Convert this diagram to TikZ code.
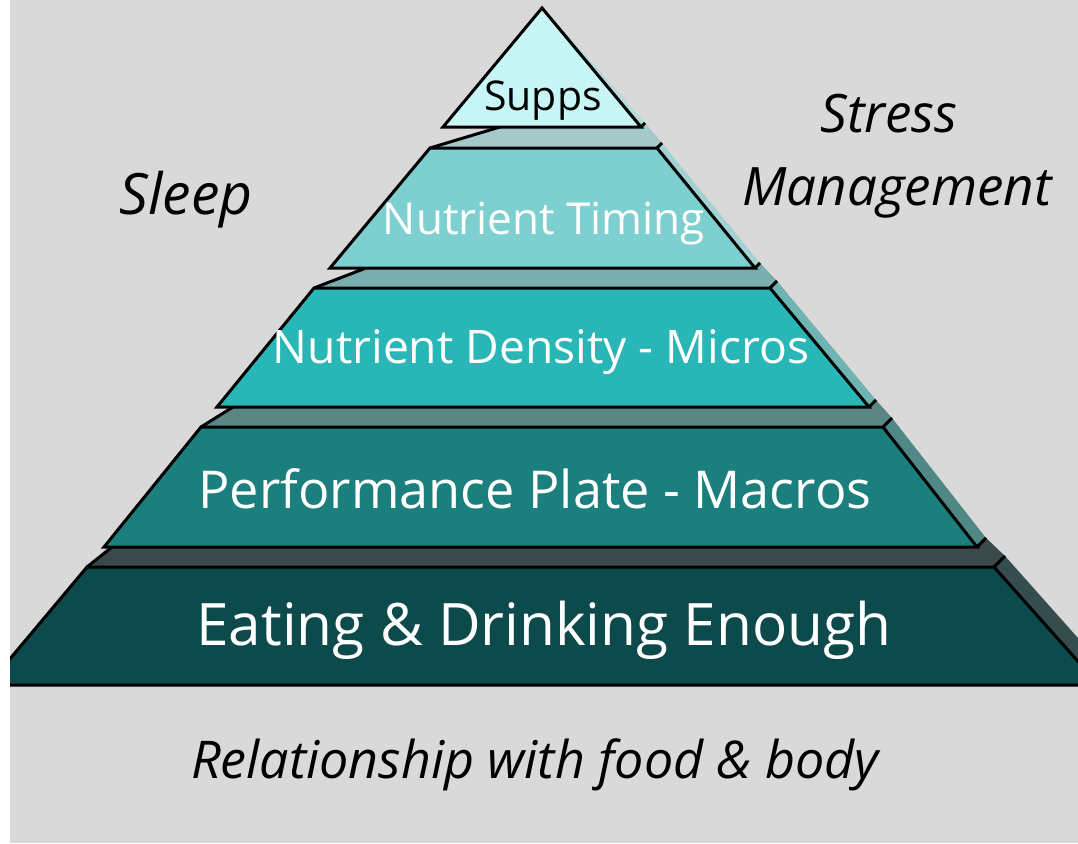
\documentclass[tikz,border=0pt]{standalone}
\usepackage{fontspec}
\usetikzlibrary{calc}
\setmainfont{Open Sans}
\begin{document}
\begin{tikzpicture}[x=1pt,y=-1pt,
  outline/.style={draw=black,line width=3pt,line join=miter},
  edge/.style={draw=black,line width=3pt,line cap=butt},
  label/.style={inner sep=0pt,anchor=base},
  lbltext/.style={label,text=white},
  sidetext/.style={label,text=black,font=\itshape\fontsize{53}{63}\selectfont}]
\definecolor{bg}{HTML}{D9D9D9}
\definecolor{fA}{HTML}{C8F5F5}\definecolor{sA}{HTML}{B2DADA}
\definecolor{fB}{HTML}{7ECFCF}\definecolor{sB}{HTML}{A2D2D2}\definecolor{tB}{HTML}{A5C9C9}
\definecolor{fC}{HTML}{29B6B6}\definecolor{sC}{HTML}{6FB3B3}\definecolor{tC}{HTML}{7AAEAE}
\definecolor{fD}{HTML}{1A7F7D}\definecolor{sD}{HTML}{4F8886}\definecolor{tD}{HTML}{5C8684}
\definecolor{fE}{HTML}{0D4A4B}\definecolor{sE}{HTML}{354D4D}\definecolor{tE}{HTML}{3A4A4A}
% canvas
\fill[bg] (0,0) rectangle (1078,843);
\fill[white] (0,0) rectangle (10,843);
\useasboundingbox (0,0) rectangle (1078,843);

% layer corners
\coordinate (A)   at (542,8);
\coordinate (BL1) at (443,127); \coordinate (BR1) at (641,127);
\coordinate (TL2) at (430,148); \coordinate (TR2) at (657,148);
\coordinate (BL2) at (330,268); \coordinate (BR2) at (755,268);
\coordinate (TL3) at (314,288); \coordinate (TR3) at (770,288);
\coordinate (BL3) at (217,407); \coordinate (BR3) at (869,407);
\coordinate (TL4) at (201,427); \coordinate (TR4) at (883,427);
\coordinate (BL4) at (104,547); \coordinate (BR4) at (977,547);
\coordinate (TL5) at (87,567);  \coordinate (TR5) at (994,567);
\coordinate (BL5) at (-12,685); \coordinate (BR5) at (1099,685);
% back-left corners of the top faces
\coordinate (K2) at (500,127);
\coordinate (K3) at (366,268);
\coordinate (K4) at (233,407);
\coordinate (K5) at (112,547);

\begin{scope}
\clip (10,0) rectangle (1078,843);
% ---- base layer
\fill[tE] (K5) -- ($(BR4)+(9,-9)$) -- ($(TR5)+(11,-11)$) -- (TR5) -- (TL5) -- cycle;
\fill[sE] (TR5) -- ($(TR5)+(11,-11)$) -- ($(BR5)+(11,-11)$) -- (BR5) -- cycle;
\fill[fE] (TL5) -- (TR5) -- (BR5) -- (BL5) -- cycle;
\draw[outline] (TL5) -- (TR5) -- (BR5) -- (BL5) -- cycle;
\draw[edge] (K5) -- (TL5);
\draw[edge] (TR5) -- ++(11,-11);
% ---- fourth layer
\fill[tD] (K4) -- ($(BR3)+(7,-7)$) -- ($(TR4)+(9,-9)$) -- (TR4) -- (TL4) -- cycle;
\fill[sD] (TR4) -- ($(TR4)+(9,-9)$) -- ($(BR4)+(9,-9)$) -- (BR4) -- cycle;
\fill[fD] (TL4) -- (TR4) -- (BR4) -- (BL4) -- cycle;
\draw[outline] (TL4) -- (TR4) -- (BR4) -- (BL4) -- cycle;
\draw[edge] (K4) -- (TL4);
\draw[edge] (TR4) -- ++(9,-9);
\draw[edge] (BR4) -- ++(9,-9);
% ---- third layer
\fill[tC] (K3) -- ($(BR2)+(5,-5)$) -- ($(TR3)+(7,-7)$) -- (TR3) -- (TL3) -- cycle;
\fill[sC] (TR3) -- ($(TR3)+(7,-7)$) -- ($(BR3)+(7,-7)$) -- (BR3) -- cycle;
\fill[fC] (TL3) -- (TR3) -- (BR3) -- (BL3) -- cycle;
\draw[outline] (TL3) -- (TR3) -- (BR3) -- (BL3) -- cycle;
\draw[edge] (K3) -- (TL3);
\draw[edge] (TR3) -- ++(7,-7);
\draw[edge] (BR3) -- ++(7,-7);
% ---- second layer
\fill[tB] (K2) -- ($(BR1)+(4,-4)$) -- ($(TR2)+(5,-5)$) -- (TR2) -- (TL2) -- cycle;
\fill[sB] (TR2) -- ($(TR2)+(5,-5)$) -- ($(BR2)+(5,-5)$) -- (BR2) -- cycle;
\fill[fB] (TL2) -- (TR2) -- (BR2) -- (BL2) -- cycle;
\draw[outline] (TL2) -- (TR2) -- (BR2) -- (BL2) -- cycle;
\draw[edge] (K2) -- (TL2);
\draw[edge] (TR2) -- ++(5,-5);
\draw[edge] (BR2) -- ++(5,-5);
% ---- top layer
\fill[sA] (A) -- ($(A)+(2,0)$) -- ($(BR1)+(4,-4)$) -- (BR1) -- cycle;
\fill[fA] (A) -- (BR1) -- (BL1) -- cycle;
\draw[outline] (A) -- (BR1) -- (BL1) -- cycle;
\draw[edge] (BR1) -- ++(4,-4);
\end{scope}

% layer captions
\node[label,font=\fontsize{41}{49}\selectfont] (supps) at (543,110) {Supps};
\node[lbltext,font=\fontsize{44}{53}\selectfont] (timing) at (544,234) {Nutrient Timing};
\node[lbltext,font=\fontsize{46.2}{55}\selectfont] (density) at (541,363) {Nutrient Density - Micros};
\node[lbltext,font=\fontsize{52.2}{62}\selectfont] (macros) at (535,508) {Performance Plate - Macros};
\node[lbltext,font=\fontsize{58.5}{70}\selectfont] (enough) at (544,645) {Eating \& Drinking Enough};
% surrounding factors
\node[sidetext,font=\itshape\fontsize{57}{68}\selectfont] (sleep) at (186,214) {Sleep};
\node[sidetext] (stress) at (889,132) {Stress};
\node[sidetext] (mgmt) at (897,205) {Management};
\node[sidetext,font=\itshape\fontsize{52}{62}\selectfont] (relation) at (535,778) {Relationship with food \& body};
\end{tikzpicture}
\end{document}
